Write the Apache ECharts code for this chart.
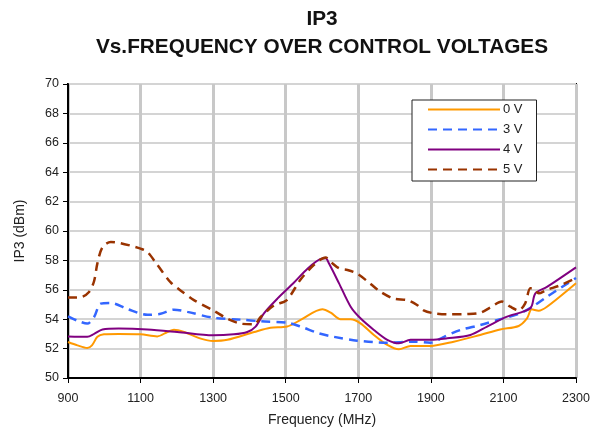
<!DOCTYPE html>
<html>
<head>
    <meta charset="utf-8">
    <script src="https://cdn.jsdelivr.net/npm/echarts@6/dist/echarts.min.js"></script>
    <style>
        html, body { margin: 0; padding: 0; background: #fff; }
    </style>
</head>
<body>
<!-- chart container -->
<div id="ip3-chart" style="width: 598px;height:430px;"></div>

<script>
  // tick values
  var freqTicks = [900, 1100, 1300, 1500, 1700, 1900, 2100, 2300];
  var ipTicks = [50, 52, 54, 56, 58, 60, 62, 64, 66, 68, 70];

  // 0 V
  var freq0V = [900, 926, 953, 966, 981, 999, 1040, 1100, 1146, 1174, 1192, 1220, 1266, 1300, 1339, 1413, 1458, 1504, 1541, 1601, 1624, 1651, 1679, 1706, 1743, 1780, 1812, 1844, 1899, 1963, 2036, 2091, 2142, 2165, 2178, 2197, 2220, 2300];
  var ip0V = [52.45, 52.22, 52.04, 52.22, 52.8, 52.97, 53.0, 52.97, 52.83, 53.13, 53.29, 53.13, 52.68, 52.52, 52.6, 53.13, 53.42, 53.5, 53.95, 54.67, 54.44, 53.99, 53.99, 53.72, 52.93, 52.25, 51.95, 52.18, 52.18, 52.47, 52.93, 53.3, 53.54, 54.06, 54.67, 54.58, 54.85, 56.45];

  // 3 V
  var freq3V = [900, 926, 953, 972, 990, 1018, 1063, 1119, 1155, 1192, 1229, 1300, 1376, 1431, 1504, 1541, 1590, 1633, 1697, 1780, 1853, 1899, 1936, 1981, 2036, 2091, 2146, 2183, 2220, 2300];
  var ip3V = [54.2, 53.9, 53.7, 54.15, 55.06, 55.1, 54.7, 54.3, 54.37, 54.65, 54.5, 54.1, 53.97, 53.86, 53.76, 53.5, 53.05, 52.8, 52.54, 52.4, 52.47, 52.4, 52.8, 53.26, 53.6, 54.0, 54.4, 54.9, 55.53, 56.8];

  // 4 V
  var freq4V = [900, 953, 972, 995, 1040, 1119, 1201, 1300, 1357, 1394, 1417, 1440, 1477, 1523, 1560, 1596, 1610, 1619, 1647, 1679, 1706, 1743, 1780, 1812, 1844, 1899, 1945, 2009, 2055, 2110, 2174, 2188, 2220, 2300];
  var ip4V = [52.83, 52.8, 53.0, 53.3, 53.36, 53.3, 53.13, 52.9, 52.97, 53.13, 53.5, 54.4, 55.4, 56.5, 57.44, 58.1, 58.14, 57.8, 56.44, 54.85, 54.06, 53.27, 52.6, 52.36, 52.6, 52.6, 52.7, 52.93, 53.5, 54.17, 54.74, 55.76, 56.2, 57.53];

  // 5 V
  var freq5V = [900, 935, 958, 972, 981, 995, 1018, 1040, 1073, 1100, 1119, 1146, 1183, 1210, 1247, 1300, 1339, 1376, 1413, 1431, 1468, 1502, 1541, 1578, 1610, 1624, 1647, 1670, 1697, 1734, 1761, 1798, 1835, 1862, 1880, 1908, 1945, 2000, 2036, 2064, 2096, 2119, 2142, 2160, 2174, 2183, 2197, 2220, 2256, 2300];
  var ip5V = [55.47, 55.5, 55.85, 56.6, 57.8, 58.9, 59.25, 59.2, 59.0, 58.8, 58.57, 57.7, 56.5, 55.96, 55.3, 54.6, 54.04, 53.7, 53.65, 54.15, 54.94, 55.28, 56.7, 57.7, 58.2, 57.9, 57.46, 57.35, 57.1, 56.4, 55.87, 55.4, 55.3, 54.97, 54.6, 54.4, 54.33, 54.35, 54.44, 54.8, 55.2, 54.85, 54.6, 55.08, 56.1, 56.1, 55.76, 56.0, 56.3, 56.8];

  var fontName = 'Liberation Sans, Arial, sans-serif';

  // pair x / y arrays into points
  function pairs(xs, ys) {
    var out = [];
    for (var i = 0; i < xs.length; i++) {
      out.push([xs[i], ys[i]]);
    }
    return out;
  }

  function lineSeries(name, xs, ys, color, dashed) {
    return {
      name: name,
      type: 'line',
      data: pairs(xs, ys),
      smooth: 0.3,
      symbol: 'none',
      lineStyle: {
        color: color,
        width: dashed ? 2.5 : 2,
        type: dashed ? [9, 6] : 'solid'
      },
      itemStyle: { color: color }
    };
  }

  var myChart = echarts.init(document.getElementById('ip3-chart'));
  var option = {
    animation: false,
    backgroundColor: '#fff',
    textStyle: { fontFamily: fontName },
    title: {
      text: 'IP3\nVs.FREQUENCY OVER CONTROL VOLTAGES',
      left: 317,
      textAlign: 'center',
      top: 0,
      textStyle: {
        fontFamily: fontName,
        fontSize: 20.8,
        fontWeight: 'bold',
        color: '#111',
        lineHeight: 28
      }
    },
    legend: {
      orient: 'vertical',
      left: 412,
      top: 100,
      padding: [3, 14, 5, 15],
      itemWidth: 72,
      itemHeight: 14,
      itemGap: 7,
      backgroundColor: '#fff',
      borderColor: '#222',
      borderWidth: 1,
      borderRadius: 0,
      itemStyle: { opacity: 0 },
      textStyle: { fontFamily: fontName, fontSize: 13, color: '#222', padding: [0, 0, 0, -2] },
      data: ['0 V', '3 V', '4 V', '5 V']
    },
    grid: {
      left: 68,
      right: 22,
      top: 84,
      bottom: 52,
      outerBoundsMode: 'none',
      containLabel: false,
      show: true,
      borderColor: '#000',
      borderWidth: 2
    },
    xAxis: {
      type: 'value',
      min: freqTicks[0],
      max: freqTicks[freqTicks.length - 1],
      interval: freqTicks[1] - freqTicks[0],
      name: 'Frequency (MHz)',
      nameLocation: 'middle',
      nameGap: 35,
      nameTextStyle: { fontFamily: fontName, fontSize: 14, color: '#222' },
      axisLine: { lineStyle: { color: '#000', width: 2 } },
      axisTick: { show: true, length: 5, lineStyle: { color: '#000', width: 1 } },
      axisLabel: {
        fontFamily: fontName, fontSize: 12.5, color: '#222', margin: 14,
        formatter: function (v) { return String(v); }
      },
      splitLine: { show: true, lineStyle: { color: '#c8c8c8', width: 3 } }
    },
    yAxis: {
      type: 'value',
      min: ipTicks[0],
      max: ipTicks[ipTicks.length - 1],
      interval: ipTicks[1] - ipTicks[0],
      name: 'IP3 (dBm)',
      nameLocation: 'middle',
      nameGap: 41,
      nameTextStyle: { fontFamily: fontName, fontSize: 14, color: '#222' },
      axisLine: { show: true, lineStyle: { color: '#000', width: 2 } },
      axisTick: { show: true, length: 5, lineStyle: { color: '#000', width: 1 } },
      axisLabel: { fontFamily: fontName, fontSize: 12.5, color: '#222', margin: 9 },
      splitLine: { show: true, lineStyle: { color: '#d4d4d4', width: 2 } }
    },
    series: [
      lineSeries('0 V', freq0V, ip0V, '#ff9900', false),
      lineSeries('3 V', freq3V, ip3V, '#3366ff', true),
      lineSeries('4 V', freq4V, ip4V, '#800080', false),
      lineSeries('5 V', freq5V, ip5V, '#993300', true)
    ]
  };
  myChart.setOption(option);
</script>
</body>
</html>
